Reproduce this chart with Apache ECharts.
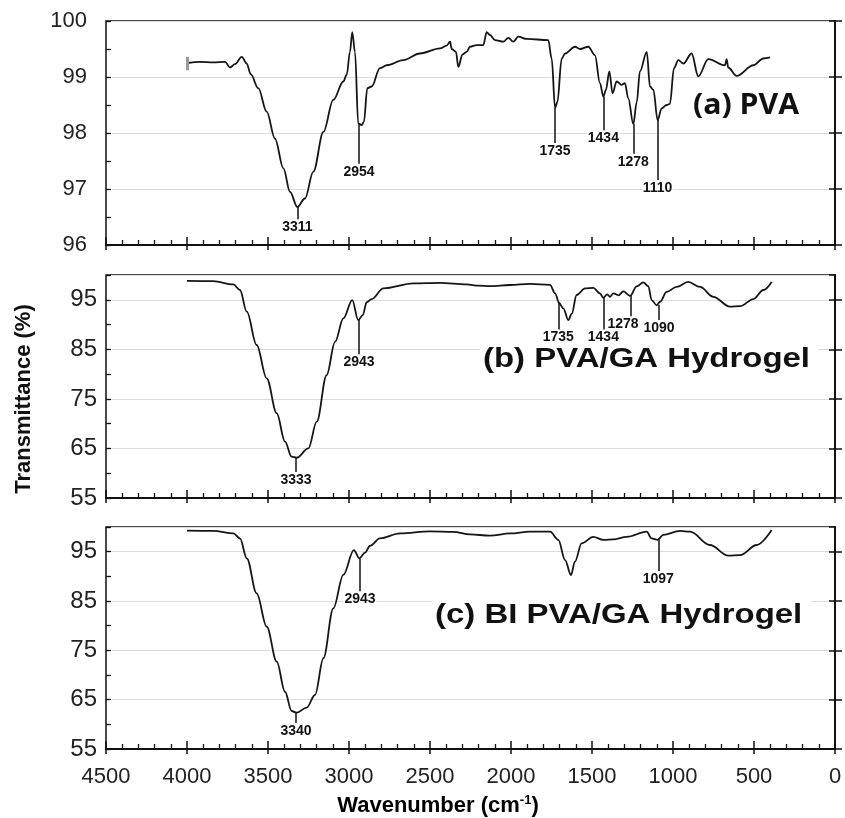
<!DOCTYPE html>
<html>
<head>
<meta charset="utf-8">
<script src="https://cdn.jsdelivr.net/npm/echarts@6/dist/echarts.min.js"></script>
<style>
  html,body{margin:0;padding:0;background:#fff;}
  #chart{width:845px;height:818px;}
</style>
</head>
<body>
<div id="chart"></div>
<script>
// (a) PVA
const pvaWn = [4000,3920,3838,3765,3735,3704,3662,3631,3607,3560,3508,3457,3405,3364,3319,3272,3220,3158,3097,3035,3014,2994,2980,2963,2943,2922,2908,2887,2860,2809,2767,2665,2562,2438,2397,2376,2366,2340,2325,2300,2274,2253,2212,2171,2150,2130,2099,2047,2017,1986,1955,1903,1770,1749,1728,1714,1687,1666,1605,1574,1523,1482,1451,1430,1414,1393,1373,1348,1317,1297,1276,1245,1224,1204,1162,1142,1121,1095,1070,1039,1019,994,967,936,885,844,782,679,669,659,607,504,442,401];
const pvaT  = [99.25,99.27,99.26,99.27,99.17,99.23,99.36,99.24,99.05,98.80,98.38,97.90,97.37,96.95,96.68,96.83,97.31,98.02,98.59,98.92,99.04,99.45,99.80,99.45,98.17,98.14,98.20,98.80,98.83,99.16,99.21,99.30,99.42,99.51,99.56,99.63,99.50,99.45,99.18,99.40,99.45,99.54,99.57,99.57,99.80,99.75,99.66,99.63,99.70,99.63,99.72,99.68,99.66,99.33,98.45,98.55,99.33,99.42,99.54,99.50,99.54,99.39,98.89,98.65,98.77,99.10,98.71,98.92,98.86,98.89,98.62,98.16,98.55,99.10,99.45,98.83,98.77,98.23,98.44,98.50,98.52,99.16,99.30,99.24,99.42,99.01,99.32,99.21,99.32,99.17,99.02,99.21,99.33,99.35];
// [position, from, to, label]
const pvaPeaks = [[3319,96.68,96.46,'3311'],[2938,98.15,97.45,'2954'],[1728,98.45,97.82,'1735'],[1430,98.65,98.05,'1434'],[1245,98.16,97.63,'1278'],[1095,98.23,97.16,'1110']];
const pvaErrBar = [4000,99.12,99.36];

// (b) PVA/GA Hydrogel
const gelWn = [4000,3838,3714,3673,3631,3570,3508,3446,3395,3354,3323,3251,3199,3138,3086,3035,2980,2943,2915,2891,2860,2788,2603,2438,2274,2200,2130,2006,1883,1759,1728,1702,1677,1646,1625,1595,1543,1492,1451,1430,1406,1389,1368,1337,1307,1265,1224,1183,1152,1132,1101,1080,1039,978,906,833,751,648,586,504,442,391];
const gelT  = [98.8,98.75,98.1,96.97,92.6,85.87,79.15,72.1,66.36,63.33,63.13,65.0,70.4,79.8,86.5,91.26,94.95,90.9,91.9,94.5,95.15,97.3,98.3,98.4,98.1,97.85,97.75,97.98,98.2,98.0,96.3,94.3,93.27,90.9,92.2,95.96,97.3,97.4,96.3,95.4,96.1,95.6,96.3,95.9,96.7,95.8,97.7,98.5,97.7,94.95,93.9,94.6,96.6,97.6,98.6,97.6,95.6,93.6,93.7,95.15,96.97,98.6];
const gelPeaks = [[3327,63.1,60.25,'3333'],[2938,90.9,84.0,'2943'],[1708,94.6,89.0,'1735'],[1430,95.4,89.0,'1434'],[1259,95.9,91.7,'1278'],[1086,94.0,90.9,'1090']];

// (c) BI PVA/GA Hydrogel
const biWn = [4000,3838,3714,3673,3631,3570,3508,3446,3395,3354,3323,3261,3210,3158,3097,3035,2970,2936,2901,2870,2809,2685,2500,2356,2253,2130,2006,1883,1759,1708,1666,1630,1605,1564,1492,1430,1368,1286,1162,1132,1095,1060,957,895,772,659,586,483,391];
const biT  = [99.25,99.2,98.7,97.7,93.66,86.56,79.8,72.7,66.6,62.7,62.36,63.4,65.95,73.4,83.5,90.3,95.3,93.66,94.8,96.2,97.7,98.7,99.1,99.0,98.5,98.25,98.7,99.05,99.05,97.4,93.3,90.27,93.0,96.7,98.0,97.4,97.5,98.0,99.05,97.7,97.4,98.4,99.2,99.05,96.35,94.2,94.3,96.35,99.4];
const biPeaks = [[3327,62.36,60.27,'3340'],[2932,93.6,87.0,'2943'],[1091,97.4,91.1,'1097']];

const xTicks = [4500,4000,3500,3000,2500,2000,1500,1000,500,0];

const INK = '#111';
const FONT = 'Liberation Sans';

const panels = [
  {wn:pvaWn, t:pvaT, peaks:pvaPeaks, min:96, max:100, step:1, top:21, height:224, xLabels:false, yFont:22, yMargin:19, shift:{}},
  {wn:gelWn, t:gelT, peaks:gelPeaks, min:55, max:100, step:10, top:275, height:223, xLabels:false, yFont:24, yMargin:9, shift:{'1278':-8}},
  {wn:biWn, t:biT, peaks:biPeaks, min:55, max:100, step:10, top:527, height:222, xLabels:true, yFont:24, yMargin:9, shift:{}}
];

const grids = [], xAxes = [], yAxes = [], series = [];
panels.forEach((p, i) => {
  grids.push({left:106, right:10, top:p.top, height:p.height, show:true, borderColor:INK, borderWidth:1.5, backgroundColor:'transparent'});
  const xBase = {gridIndex:i, type:'value', min:xTicks[xTicks.length-1], max:xTicks[0], interval:500, inverse:true, position:'bottom', splitLine:{show:false}};
  xAxes.push(Object.assign({}, xBase, {
    axisLine:{show:true, lineStyle:{color:INK, width:2}},
    axisTick:{show:true, inside:true, length:8, lineStyle:{color:INK, width:1.5}},
    minorTick:{show:true, splitNumber:5, length:5, lineStyle:{color:INK, width:1.3}},
    axisLabel:{show:p.xLabels, margin:17, fontSize:22, color:'#222', fontFamily:FONT, formatter:v => String(v)}
  }));
  xAxes.push(Object.assign({}, xBase, {
    axisLine:{show:false}, axisLabel:{show:false},
    axisTick:{show:true, inside:false, length:5, lineStyle:{color:INK, width:1.5}}
  }));
  const yBase = {gridIndex:i, type:'value', min:p.min, max:p.max, position:'left'};
  yAxes.push(Object.assign({}, yBase, {
    interval:p.step,
    axisLine:{show:true, lineStyle:{color:INK, width:2}},
    axisTick:{show:true, inside:true, length:7, lineStyle:{color:INK, width:1.5}},
    axisLabel:{show:true, margin:p.yMargin, fontSize:p.yFont, color:'#222', fontFamily:FONT, showMaxLabel:p.max % p.step === 0 && p.min % p.step === 0},
    splitLine:{show:true, lineStyle:{color:'#dcdcdc', width:1.2}}
  }));
  yAxes.push(Object.assign({}, yBase, {
    interval:p.step, axisLine:{show:false}, axisLabel:{show:false}, splitLine:{show:false},
    axisTick:{show:true, inside:false, length:6, lineStyle:{color:INK, width:1.5}}
  }));
  yAxes.push(Object.assign({}, yBase, {
    interval:p.step/2, axisLine:{show:false}, axisLabel:{show:false}, splitLine:{show:false},
    axisTick:{show:true, inside:true, length:5, lineStyle:{color:INK, width:1.3}}
  }));

  const marks = p.peaks.map(k => {
    const from = {coord:[k[0],k[1]], name:k[3]};
    if(p.shift[k[3]]) from.label = {offset:[p.shift[k[3]],0]};
    return [from, {coord:[k[0],k[2]]}];
  });
  if(i === 0){
    marks.push([{coord:[pvaErrBar[0],pvaErrBar[1]], name:'', lineStyle:{color:'#9a9a9a', width:3}, label:{show:false}}, {coord:[pvaErrBar[0],pvaErrBar[2]]}]);
  }
  series.push({
    type:'line', xAxisIndex:i*2, yAxisIndex:i*3,
    data:p.wn.map((w, j) => [w, p.t[j]]),
    showSymbol:false, smooth:0.35, smoothMonotone:'x',
    lineStyle:{color:'#151515', width:1.8}, silent:true,
    markLine:{
      symbol:['none','none'], silent:true, animation:false,
      lineStyle:{color:INK, width:1.5, type:'solid'},
      label:{show:true, position:'end', distance:1, formatter:'{b}', fontSize:14, fontWeight:'bold', color:INK, fontFamily:FONT, backgroundColor:'#fff', padding:[0,1]},
      emphasis:{disabled:true},
      data:marks
    }
  });
});

const chart = echarts.init(document.getElementById('chart'));
chart.setOption({
  animation:false,
  backgroundColor:'#fff',
  grid:grids, xAxis:xAxes, yAxis:yAxes, series:series,
  graphic:[
    {type:'rect', left:480, top:343, z:50, shape:{width:338, height:34}, style:{fill:'#fff'}},
    {type:'rect', left:432, top:600, z:50, shape:{width:380, height:32}, style:{fill:'#fff'}},
    {type:'text', x:693, y:106, z:60, scaleX:1.08, style:{text:'(a) PVA', font:'bold 28px "Open Sans"', fill:INK, align:'left', verticalAlign:'middle'}},
    {type:'text', x:483, y:360, z:60, scaleX:1.22, style:{text:'(b) PVA/GA Hydrogel', font:'bold 27px "Liberation Sans"', fill:INK, align:'left', verticalAlign:'middle'}},
    {type:'text', x:435, y:616, z:60, scaleX:1.22, style:{text:'(c) BI PVA/GA Hydrogel', font:'bold 27px "Liberation Sans"', fill:INK, align:'left', verticalAlign:'middle'}},
    {type:'text', x:24, y:399, rotation:Math.PI/2, style:{text:'Transmittance (%)', font:'bold 22px "Liberation Sans"', fill:INK, align:'center', verticalAlign:'middle'}},
    {type:'text', x:438, y:806, style:{
      text:'{n|Wavenumber (cm}{s|-1}{n|)}', align:'center', verticalAlign:'middle',
      rich:{n:{fontFamily:FONT, fontWeight:'bold', fontSize:22, color:INK, lineHeight:24},
            s:{fontFamily:FONT, fontWeight:'bold', fontSize:13, color:INK, verticalAlign:'top', lineHeight:24, padding:[0,0,10,0]}}
    }}
  ]
});
</script>
</body>
</html>
